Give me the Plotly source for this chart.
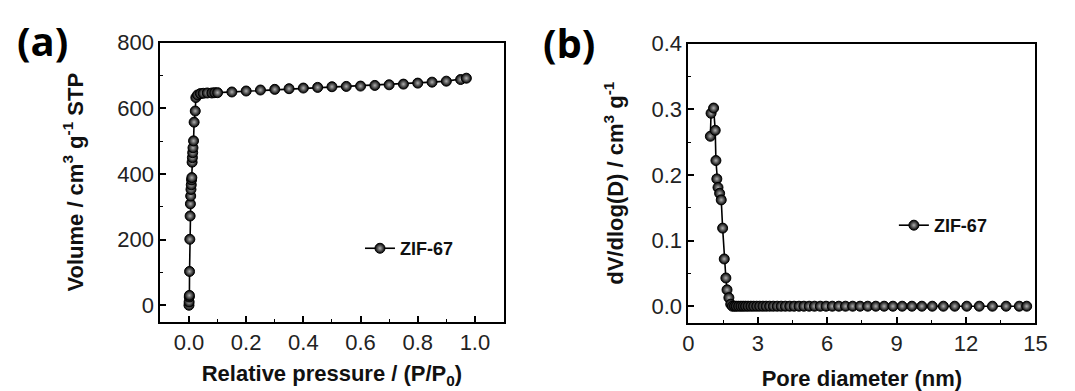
import plotly.graph_objects as go

# Panel (a): N2 isotherm
p_rel = [0.0, 0.0005, 0.001, 0.0015, 0.002, 0.003, 0.004, 0.005, 0.006, 0.007, 0.008, 0.009,
         0.010, 0.011, 0.012, 0.013, 0.014, 0.016, 0.018, 0.022, 0.024, 0.030, 0.040, 0.050,
         0.064, 0.080, 0.090, 0.100, 0.150, 0.200, 0.250, 0.300, 0.350, 0.400, 0.450, 0.500,
         0.550, 0.600, 0.650, 0.700, 0.750, 0.800, 0.850, 0.900, 0.950, 0.970]
volume = [0, 10, 25, 30, 103, 201, 272, 309, 333, 353, 367, 382, 389, 436, 450, 465, 480,
          501, 558, 592, 633, 641, 645, 646, 647, 647, 648, 648, 650, 653, 656, 658, 660,
          662, 664, 666, 667, 668, 670, 672, 674, 677, 680, 683, 688, 692]

# Panel (b): pore size distribution
pore_d = [0.95, 0.98, 1.09, 1.16, 1.19, 1.23, 1.28, 1.35, 1.42, 1.48, 1.55, 1.62, 1.67, 1.75,
          1.83, 1.90, 1.99, 2.07, 2.17, 2.27, 2.37, 2.47, 2.58, 2.70, 2.82, 2.95, 3.08, 3.22,
          3.36, 3.51, 3.67, 3.84, 4.01, 4.19, 4.38, 4.57, 4.78, 4.99, 5.22, 5.45, 5.70, 5.95,
          6.22, 6.50, 6.79, 7.10, 7.42, 7.75, 8.10, 8.46, 8.84, 9.24, 9.66, 10.09, 10.54,
          11.02, 11.51, 12.03, 12.57, 13.14, 13.73, 14.30, 14.62]
dv_dlogd = [0.259, 0.294, 0.302, 0.268, 0.222, 0.194, 0.181, 0.172, 0.162, 0.119, 0.072,
            0.043, 0.025, 0.013, 0.003, 0.0, 0.0, 0.0, 0.0, 0.0, 0.0, 0.0, 0.0, 0.0, 0.0, 0.0,
            0.0, 0.0, 0.0, 0.0, 0.0, 0.0, 0.0, 0.0, 0.0, 0.0, 0.0, 0.0, 0.0, 0.0, 0.0, 0.0,
            0.0, 0.0, 0.0, 0.0, 0.0, 0.0, 0.0, 0.0, 0.0, 0.0, 0.0, 0.0, 0.0, 0.0, 0.0, 0.0,
            0.0, 0.0, 0.0, 0.0, 0.0]

series_name = "ZIF-67"

W, H = 1075, 391
FONT = "Liberation Sans, Arial, sans-serif"

marker = dict(size=10, color="#000000", symbol="circle",
              gradient=dict(type="radial", color="#b0b0b0"),
              line=dict(color="#000000", width=1))

fig = go.Figure()
fig.add_trace(go.Scatter(x=p_rel, y=volume, mode="lines+markers", name=series_name,
                         line=dict(color="#000000", width=1.6), marker=marker,
                         xaxis="x", yaxis="y", legend="legend"))
fig.add_trace(go.Scatter(x=pore_d, y=dv_dlogd, mode="lines+markers", name=series_name,
                         line=dict(color="#000000", width=1.6), marker=marker,
                         xaxis="x2", yaxis="y2", legend="legend2"))

axis_common = dict(showline=True, linecolor="#000000", linewidth=1.8, mirror=True,
                   ticks="inside", ticklen=6, tickwidth=1.5, tickcolor="#000000",
                   showgrid=False, zeroline=False,
                   tickfont=dict(family=FONT, size=22, color="#222222"),
                   title_font=dict(family=FONT, size=22, color="#111111", weight="bold"))

minor_common = dict(ticks="inside", ticklen=3, tickwidth=1.2, tickcolor="#000", tick0=0)

def px_x(a, b):
    return [a / W, b / W]

def px_y(top, bottom):
    return [1 - bottom / H, 1 - top / H]

fig.update_layout(
    width=W, height=H,
    margin=dict(l=0, r=0, t=0, b=0),
    paper_bgcolor="white", plot_bgcolor="white",
    xaxis=dict(domain=px_x(157, 506), range=[-0.1, 1.1], anchor="y",
               tickvals=[0, 0.2, 0.4, 0.6, 0.8, 1.0], ticktext=["0.0", "0.2", "0.4", "0.6", "0.8", "1.0"],
               minor=dict(dtick=0.1, **minor_common),
               title=dict(text="Relative pressure / (P/P<sub>0</sub>)", standoff=12),
               **axis_common),
    yaxis=dict(domain=px_y(32, 322), range=[-50, 800], anchor="x",
               tickvals=[0, 200, 400, 600, 800],
               minor=dict(dtick=100, **minor_common),
               title=dict(text="Volume / cm<sup>3</sup> g<sup>-1</sup> STP", standoff=28),
               **axis_common),
    xaxis2=dict(domain=px_x(694, 1047), range=[0, 15], anchor="y2",
                tickvals=[0, 3, 6, 9, 12, 15],
                minor=dict(dtick=1.5, **minor_common),
                title=dict(text="Pore diameter (nm)", standoff=20),
                **axis_common),
    yaxis2=dict(domain=px_y(33, 323), range=[-0.025, 0.4], anchor="x2",
                tickvals=[0, 0.1, 0.2, 0.3, 0.4], ticktext=["0.0", "0.1", "0.2", "0.3", "0.4"],
                minor=dict(dtick=0.05, **minor_common),
                title=dict(text="dV/dlog(D) / cm<sup>3</sup> g<sup>-1</sup>", standoff=22),
                **axis_common),
    legend=dict(x=360 / W, y=1 - 246 / H, xanchor="left", yanchor="middle",
                bgcolor="rgba(0,0,0,0)", borderwidth=0,
                font=dict(family=FONT, size=18, color="#111111", weight="bold")),
    legend2=dict(x=903 / W, y=1 - 222 / H, xanchor="left", yanchor="middle",
                 bgcolor="rgba(0,0,0,0)", borderwidth=0,
                 font=dict(family=FONT, size=18, color="#111111", weight="bold")),
    showlegend=True,
)

fig.add_annotation(text="(a)", x=37 / W, y=1 - 30 / H, xref="paper", yref="paper",
                   xanchor="center", yanchor="middle", showarrow=False,
                   font=dict(family="Open Sans, sans-serif", size=40, color="#000", weight="bold"))
fig.add_annotation(text="(b)", x=573 / W, y=1 - 32 / H, xref="paper", yref="paper",
                   xanchor="center", yanchor="middle", showarrow=False,
                   font=dict(family="Open Sans, sans-serif", size=40, color="#000", weight="bold"))

fig.write_html("out.html")
